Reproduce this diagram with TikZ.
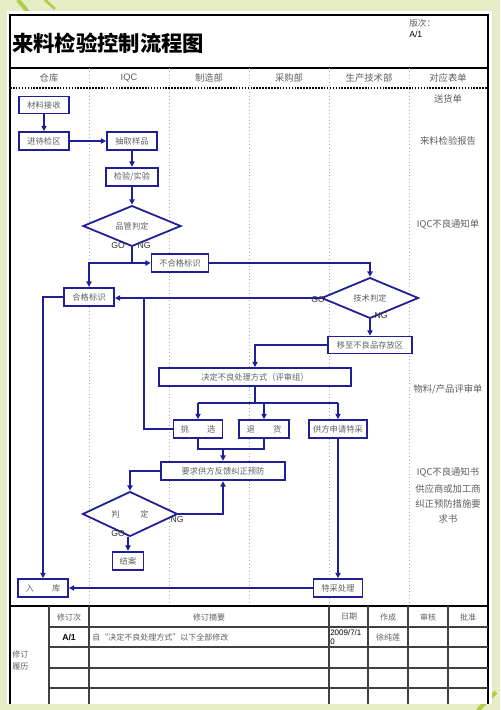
\documentclass[tikz,border=0pt]{standalone}
\usepackage{fontspec}
\setmainfont{Liberation Sans}
\newfontfamily\cjk{Noto Sans CJK SC}
\usetikzlibrary{shapes.geometric,arrows.meta}
\definecolor{bgg}{RGB}{230,237,198}
\definecolor{navy}{RGB}{32,32,150}
\definecolor{txtg}{RGB}{95,95,95}
\definecolor{leaf}{RGB}{175,205,70}
\begin{document}
\begin{tikzpicture}[x=0.75pt,y=-0.75pt,
  box/.style={draw=navy,line width=1.35pt,fill=white,inner sep=0pt,font=\cjk\fontsize{6.2}{7}\selectfont,text=txtg},
  dia/.style={diamond,draw=navy,line width=1.35pt,fill=white,inner sep=0pt,font=\cjk\fontsize{6.2}{7}\selectfont,text=txtg},
  flow/.style={draw=navy,line width=1.3pt},
  arr/.style={flow,-{Triangle[length=4pt,width=4pt]}},
  lab/.style={font=\fontsize{6.5}{7}\selectfont,text=black!80,inner sep=0pt},
  colsep/.style={draw=gray!70,dotted,line width=0.6pt},
  hdr/.style={font=\cjk\fontsize{7}{8}\selectfont,text=txtg,inner sep=0pt},
  tbl/.style={draw=black!75,line width=1pt},
  tt/.style={font=\cjk\fontsize{6}{7}\selectfont,text=txtg,inner sep=0pt},
]
% background
\fill[bgg] (0,0) rectangle (500,710);
\useasboundingbox (0,0) rectangle (500,710);
\draw[leaf,line width=3pt] (18,0) -- (28,12);
\draw[leaf,line width=2pt] (45,0) -- (55,9);
\draw[leaf,line width=3pt] (478,710) -- (496,692);
\fill[white] (7,11) rectangle (492,704);
% frame
\draw[black,line width=1.5pt] (10,704) -- (10,15) -- (488,15) -- (488,704);
\draw[black,line width=1.5pt] (10,68) -- (488,68);
\draw[black,densely dotted,line width=1.2pt] (10,88) -- (488,88);
\foreach \xx in {89,169,249,329,409} \draw[colsep] (\xx,68) -- (\xx,606);
\draw[black,line width=1.5pt] (10,606) -- (488,606);
\foreach \xx in {49,89,329,368,408,448} \draw[tbl] (\xx,606) -- (\xx,704);
\foreach \yy in {627,647,668,688} \draw[tbl] (49,\yy) -- (488,\yy);
% title
\node[anchor=west,inner sep=0pt,font=\cjk\bfseries\fontsize{16}{17}\selectfont] (title) at (12,43) {来料检验控制流程图};
\node[anchor=west,inner sep=0pt,font=\cjk\fontsize{6.5}{7}\selectfont,text=txtg] (ver) at (409,23) {版次：};
\node[anchor=west,inner sep=0pt,font=\fontsize{6.5}{7}\selectfont] (vera) at (409,34) {A/1};
% column headers
\node[hdr] (h1) at (49,78) {仓库};
\node[hdr,font=\fontsize{7}{8}\selectfont] (h2) at (129,78) {IQC};
\node[hdr] (h3) at (209,78) {制造部};
\node[hdr] (h4) at (289,78) {采购部};
\node[hdr] (h5) at (369,78) {生产技术部};
\node[hdr] (h6) at (448,78) {对应表单};
% forms column
\node[hdr] (f1) at (448,99) {送货单};
\node[hdr] (f2) at (448,141) {来料检验报告};
\node[hdr] (f3) at (448,224) {IQC不良通知单};
\node[hdr] (f4) at (448,389) {物料/产品评审单};
\node[hdr] (f5) at (448,472) {IQC不良通知书};
\node[hdr,align=center,font=\cjk\fontsize{7}{11.3}\selectfont] (f6) at (448,504) {供应商或加工商\\纠正预防措施要\\求书};
% flow nodes
\node[box,minimum width=37.5pt,minimum height=12.75pt] (clj) at (44,105) {材料接收};
\node[box,minimum width=37.5pt,minimum height=13.5pt] (djq) at (44,141) {进待检区};
\node[box,minimum width=37.5pt,minimum height=14pt] (cq) at (132,141) {抽取样品};
\node[box,minimum width=39pt,minimum height=14pt] (jy) at (132,177) {检验/实验};
\node[dia,minimum width=73.5pt,minimum height=26.25pt] (pg) at (132,226) {品管判定};
\node[box,minimum width=42.75pt,minimum height=14pt] (bhg) at (180,263) {不合格标识};
\node[box,minimum width=37.5pt,minimum height=14pt] (hg) at (89,297) {合格标识};
\node[dia,minimum width=72.75pt,minimum height=26.25pt] (js) at (370,298) {技术判定};
\node[box,minimum width=63pt,minimum height=12.75pt] (yz) at (370,345) {移至不良品存放区};
\node[box,minimum width=144pt,minimum height=13.5pt] (jd) at (255,377) {决定不良处理方式（评审组）};
\node[box,minimum width=36.75pt,minimum height=13.5pt] (tx) at (198,429) {挑\hspace{2.2em}选};
\node[box,minimum width=37.5pt,minimum height=13.5pt] (th) at (264,429) {退\hspace{2.2em}货};
\node[box,minimum width=43.5pt,minimum height=13.5pt] (gf) at (338,429) {供方申请特采};
\node[box,minimum width=93pt,minimum height=14pt] (yq) at (223,471) {要求供方反馈纠正预防};
\node[dia,minimum width=71.25pt,minimum height=27.75pt] (pd) at (130,514) {判\hspace{2.5em}定};
\node[box,minimum width=23.25pt,minimum height=14pt] (ja) at (128,561) {结案};
\node[box,minimum width=37.5pt,minimum height=13.5pt] (rk) at (43,588) {入\hspace{2.2em}库};
\node[box,minimum width=36.75pt,minimum height=13.5pt] (tc) at (338,588) {特采处理};
% connectors
\draw[arr] (clj) -- (djq);
\draw[arr] (djq) -- (cq);
\draw[arr] (cq) -- (jy);
\draw[arr] (jy) -- (pg);
\draw[flow] (pg.south) -- (pg.south |- bhg.west) coordinate (j1);
\draw[arr] (j1) -- (bhg.west);
\draw[arr] (j1) -| (hg.north);
\draw[arr] (bhg.east) -| (js.north);
\coordinate (jx) at (144,298);
\draw[arr] (js.west) -- (hg.east |- js.west);
\draw[arr] (js.south) -- (yz.north);
\draw[arr] (yz.west) -| (jd.north);
\coordinate (sp) at (255,403);
\draw[flow] (jd.south) -- (sp);
\draw[flow] (tx.north |- sp) -- (gf.north |- sp);
\draw[arr] (tx.north |- sp) -- (tx.north);
\draw[arr] (th.north |- sp) -- (th.north);
\draw[arr] (gf.north |- sp) -- (gf.north);
\draw[flow] (tx.west) -| (jx);
\coordinate (m1) at (223,449);
\draw[flow] (tx.south) |- (m1) -| (th.south);
\draw[arr] (m1) -- (yq.north);
\draw[arr] (yq.west) -| (pd.north);
\draw[arr] (pd.east) -| (yq.south);
\draw[arr] (ja.north |- pd.south) -- (ja.north);
\draw[arr] (gf.south) -- (tc.north);
\draw[arr] (tc.west) -- (rk.east);
\draw[arr] (hg.west) -| (rk.north);
% labels
\node[lab] (go1) at (118,246) {GO};
\node[lab] (ng1) at (144,246) {NG};
\node[lab] (go2) at (318,300) {GO};
\node[lab] (ng2) at (381,316) {NG};
\node[lab] (ng3) at (177,520) {NG};
\node[lab] (go3) at (118,534) {GO};
% table
\node[tt,anchor=north west,align=left,font=\cjk\fontsize{6}{9}\selectfont] (xl) at (12,650) {修订\\履历};
\node[tt] (t1) at (69,617) {修订次};
\node[tt] (t2) at (209,617) {修订摘要};
\node[tt] (t3) at (349,617) {日期};
\node[tt] (t4) at (388,617) {作成};
\node[tt] (t5) at (428,617) {审核};
\node[tt] (t6) at (468,617) {批准};
\node[tt,font=\bfseries\fontsize{6.5}{7}\selectfont,text=black] (r1) at (69,637) {A/1};
\node[tt,anchor=west] (r2) at (92,637) {自“决定不良处理方式”以下全部修改};
\node[tt,anchor=north west,align=left,font=\fontsize{6}{7}\selectfont,text=black] (r3) at (330,629) {2009/7/1\\0};
\node[tt] (r4) at (388,637) {徐纯莲};
\end{tikzpicture}
\end{document}
